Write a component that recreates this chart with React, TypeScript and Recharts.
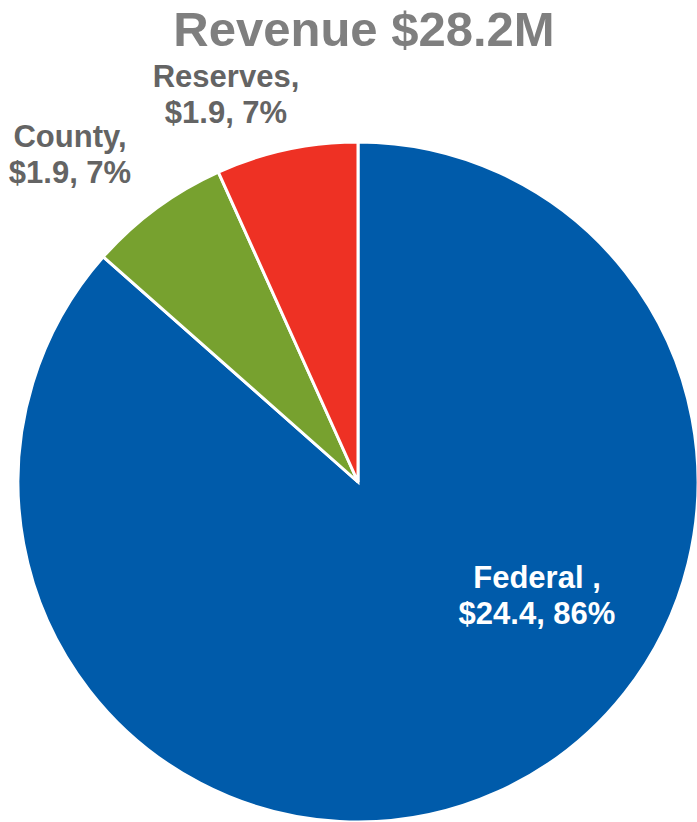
import { PieChart, Pie, Cell } from "recharts";

const names = ["Federal", "County", "Reserves"];
const values = [24.4, 1.9, 1.9];
const percents = [86, 7, 7];
const COLORS = ["#005BAA", "#77A12F", "#EE3124"];

const data = names.map((name, i) => ({ name, value: values[i], pct: percents[i] }));

// label placement relative to pie centre (Excel labels were dragged by hand)
const LABEL_OFFSETS = [
  { dx: 179, dy: 106, fill: "#ffffff" },
  { dx: -288, dy: -335, fill: "#646464" },
  { dx: -132, dy: -395, fill: "#646464" },
];

const FONT = "'Liberation Sans', Arial, sans-serif";

const renderLabel = (props: any) => {
  const { cx, cy, index } = props;
  const d = data[index];
  const o = LABEL_OFFSETS[index];
  const first = index === 0 ? `${d.name} ,` : `${d.name},`;
  return (
    <text
      x={cx + o.dx}
      y={cy + o.dy}
      textAnchor="middle"
      fill={o.fill}
      fontFamily={FONT}
      fontWeight="bold"
      fontSize={31}>
      <tspan x={cx + o.dx} dy={0}>
        {first}
      </tspan>
      <tspan x={cx + o.dx} dy={36}>
        {`$${d.value}, ${d.pct}%`}
      </tspan>
    </text>
  );
};

const App = () => {
  return (
    <div style={{ position: "absolute", left: 0, top: 0, background: "#fff" }}>
      <PieChart width={697} height={822} margin={{ top: 0, right: 0, bottom: 0, left: 0 }}>
        <text
          x={364}
          y={46}
          textAnchor="middle"
          fill="#7F7F7F"
          fontFamily={FONT}
          fontWeight="bold"
          fontSize={49}>
          Revenue $28.2M
        </text>
        <Pie
          data={data}
          dataKey="value"
          cx={358}
          cy={482}
          outerRadius={340}
          startAngle={90}
          endAngle={-270}
          stroke="#ffffff"
          strokeWidth={3}
          label={renderLabel}
          labelLine={false}
          isAnimationActive={false}>
          {data.map((_, i) => (
            <Cell key={`cell-${i}`} fill={COLORS[i]} />
          ))}
        </Pie>
      </PieChart>
    </div>
  );
};

export default App;
